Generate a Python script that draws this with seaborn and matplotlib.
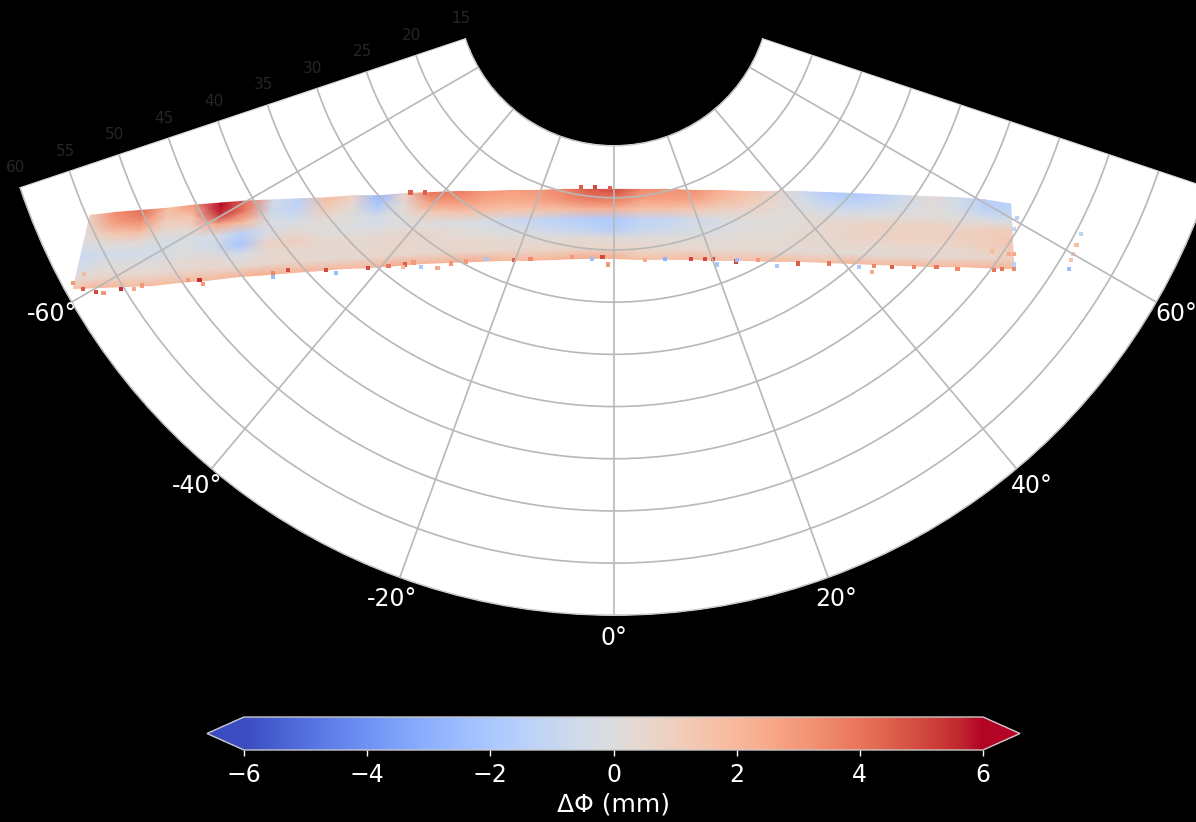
import numpy as np
import pandas as pd
import seaborn as sns
import matplotlib.pyplot as plt
import matplotlib.patheffects as pe
from matplotlib.colors import Normalize
from matplotlib.cm import ScalarMappable

# swath outline, detector plane (mm)
top_x = [-50.2, -47.7, -45.2, -42.7, -40.2, -37.6, -35.1, -32.6, -30.1, -27.5, -25.0, -22.5,
         -20.0, -17.5, -14.9, -12.4, -9.9, -7.4, -4.9, -2.3, 0.2, 2.7, 5.2, 7.8,
         10.3, 12.8, 15.3, 17.8, 20.4, 22.9, 25.4, 27.9, 30.4, 33.0, 35.5, 38.0]
top_y = [21.7, 21.4, 21.2, 21.0, 20.7, 20.5, 20.3, 20.2, 20.1, 20.0, 19.8, 19.8,
         19.6, 19.5, 19.4, 19.4, 19.3, 19.3, 19.2, 19.2, 19.2, 19.2, 19.2, 19.3,
         19.3, 19.4, 19.4, 19.4, 19.5, 19.6, 19.7, 19.8, 19.9, 20.0, 20.2, 20.6]
bot_x = [-51.8, -49.2, -46.6, -44.1, -41.5, -38.9, -36.4, -33.8, -31.2, -28.6, -26.1, -23.5,
         -20.9, -18.3, -15.8, -13.2, -10.6, -8.1, -5.5, -2.9, -0.3, 2.2, 4.8, 7.4,
         10.0, 12.5, 15.1, 17.7, 20.2, 22.8, 25.4, 28.0, 30.5, 33.1, 35.7, 38.3]
bot_y = [28.7, 28.6, 28.5, 28.4, 28.1, 27.9, 27.6, 27.4, 27.2, 27.0, 26.8, 26.7,
         26.5, 26.3, 26.2, 26.1, 26.0, 26.0, 25.9, 25.8, 25.8, 25.9, 25.9, 25.9,
         26.0, 26.0, 26.1, 26.1, 26.2, 26.3, 26.4, 26.5, 26.6, 26.6, 26.7, 26.8]

# delta phi per column, one row at a time from the top edge down
row0 = [1.0, 3.4, 4.2, 1.8, 3.0, 7.0, 4.0, -0.4, -1.4, 1.8, 0.8, -2.6, 0.8, 4.0, 3.8, 3.0, 2.8, 3.0,
        3.6, 4.6, 5.0, 3.4, 3.2, 3.2, 2.2, 1.5, 0.8, -0.6, -1.6, -1.8, -1.4, -0.6, 0.3, -0.6, -1.6, -1.5]
row1 = [0.5, 2.8, 3.4, 1.2, 1.6, 5.5, 3.6, -0.7, -1.1, 1.2, 0.4, -1.8, 0.3, 2.8, 3.0, 2.6, 2.4, 2.6,
        3.2, 3.8, 3.8, 2.8, 2.8, 2.6, 1.8, 1.2, 0.6, -0.3, -1.0, -1.2, -0.9, -0.4, 0.1, -0.4, -1.3, -1.2]
row2 = [0.1, 1.4, 1.8, 0.5, 0.6, 2.4, 1.8, -0.3, -0.4, 0.4, 0.1, -0.5, 0.1, 1.2, 1.6, 1.6, 1.5, 1.5,
        1.8, 2.2, 2.2, 1.6, 1.6, 1.2, 0.8, 0.6, 0.3, 0.1, -0.2, -0.3, -0.1, 0.1, 0.2, 0.0, -0.3, -0.2]
row3 = [-0.3, 0.1, 0.2, -0.3, -0.3, -0.3, -1.4, -0.2, 0.3, 0.0, -0.1, -0.2, 0.0, 0.1, -0.1, -0.3, -0.7, -1.1,
        -1.4, -1.6, -1.8, -1.2, -1.0, -0.6, -0.3, 0.0, 0.0, 0.2, 0.5, 0.6, 0.8, 0.8, 0.8, 0.7, 0.9, 1.1]
row4 = [-0.8, -0.5, -0.5, -0.4, 0.0, -0.6, -2.0, 0.7, 1.0, 0.4, 0.3, 0.3, 0.6, 0.5, 0.2, 0.0, -0.2, -0.4,
        -0.8, -1.2, -1.6, -1.0, -0.7, -0.3, -0.1, 0.1, 0.2, 0.3, 0.5, 0.7, 0.8, 0.9, 0.8, 0.9, 1.1, 1.3]
row5 = [-0.5, 0.1, 0.0, 0.1, 0.2, 0.3, -0.3, 0.4, 0.5, 0.4, 0.5, 0.5, 0.6, 0.5, 0.5, 0.5, 0.4, 0.3,
        0.3, 0.3, 0.2, 0.2, 0.2, 0.2, 0.2, 0.3, 0.3, 0.4, 0.5, 0.6, 0.5, 0.6, 0.6, 0.6, 0.9, 1.2]
row6 = [0.3, 0.6, 0.6, 0.5, 0.6, 0.6, 0.4, 0.5, 0.6, 0.4, 0.4, 0.5, 0.6, 0.5, 0.6, 0.6, 0.6, 0.7,
        0.7, 0.7, 0.7, 0.6, 0.5, 0.5, 0.5, 0.4, 0.3, 0.3, 0.3, 0.2, 0.2, 0.3, 0.3, 0.4, 0.6, 1.0]
row7 = [1.6, 2.0, 1.8, 1.9, 1.8, 2.0, 2.0, 2.4, 2.1, 2.1, 1.9, 2.0, 2.4, 2.1, 2.1, 2.4, 2.0, 2.0,
        2.1, 2.4, 2.4, 1.6, 1.6, 2.0, 1.6, 1.6, 2.0, 1.6, 1.6, 2.1, 1.8, 1.9, 1.9, 2.0, 2.1, 2.0]

# single outlying pixels along the swath edges
speck_x = [-47.2, -49.6, -50.9, -39.7, -39.4, -31.2, -32.7, -45.2, -48.9, -51.8, -46.0, -32.7, -40.8, -50.8,
           -27.6, -23.6, -26.6, -21.6, -20.0, -19.2, -15.6, -16.9, -20.2, -18.5, -9.6, -8.0, -12.3, -14.2,
           -1.1, -0.6, -4.0, 7.4, 8.7, 9.5, 4.9, 9.9, 11.7, 11.8, 17.6, 15.6, 13.8, 3.0, -2.1,
           20.6, 26.6, 24.9, 24.7, 23.5, 28.7, 30.9, 32.9, 36.4, 37.2, 38.3, 38.3, 38.3, 37.8, 36.2, 38.6, 38.3,
           44.7, 44.3, 44.0, 43.8, 43.6, -19.5, -18.1, -3.2, -1.8, -0.4]
speck_y = [28.7, 29.0, 28.7, 27.9, 28.3, 26.9, 27.2, 28.4, 29.1, 28.2, 28.7, 27.6, 27.9, 27.3,
           26.9, 26.7, 27.2, 26.5, 26.4, 26.2, 26.3, 26.7, 26.6, 26.6, 26.0, 25.9, 25.9, 26.1,
           25.7, 26.4, 25.7, 25.9, 25.9, 25.9, 25.9, 26.4, 26.1, 26.0, 26.3, 26.5, 26.0, 26.0, 25.9,
           26.3, 26.6, 26.5, 27.1, 26.6, 26.6, 26.6, 26.8, 26.9, 26.8, 26.4, 26.8, 25.4, 25.4, 25.1, 21.9, 23.0,
           23.5, 24.5, 25.4, 26.0, 26.8, 19.5, 19.5, 19.0, 19.0, 19.1]
speck_val = [5.5, 5, 4.5, 5.5, 3, 5, 3.5, 3, 3, 3, 2.5, -2.5, 3, 2,
             5, 5, -2.5, 4, 4.5, 3, 3, 2.5, 2, -2, 4.5, 3.5, -2, 3,
             5, 3, 3, 5, 5, 5, -3, -2, 5, -2.5, 4.5, -2, 3, 2.5, -2.5,
             4, 4.5, 3.5, 2.5, -2, 3.5, 4, 3.5, 4, 4, -1.5, 3.5, 2.5, 2.5, 2, -1.5, -1.2,
             -1.2, 1.8, 1.5, 1.5, -2.5, 4.5, 4.5, 4.5, 5, 4.5]

theta_ticks = [-60, -40, -20, 0, 20, 40, 60]
r_ticks = [15, 20, 25, 30, 35, 40, 45, 50, 55, 60]
cbar_ticks = [-6, -4, -2, 0, 2, 4, 6]

sns.set_theme(style="white", rc={"figure.facecolor": "black", "savefig.facecolor": "black"})
plt.rcParams['font.family'] = ['DejaVu Sans']
cmap = sns.color_palette("coolwarm", as_cmap=True)
norm = Normalize(-6, 6)

fig = plt.figure(figsize=(11.96, 8.22), dpi=100)
# the wedge is fitted into a square box, so the box runs past the figure
ax = fig.add_axes([20 / 1196, -99 / 822, 1188 / 1196, 1188 / 822], projection='polar')
ax.set_facecolor('white')
ax.set_theta_zero_location('S')
ax.set_thetamin(-71.5)
ax.set_thetamax(71.5)
ax.set_rorigin(0)
ax.set_rlim(15, 60)

# detector plane to polar, rows spread between the two edges
values = np.array([row0, row1, row2, row3, row4, row5, row6, row7])
n_rows = values.shape[0]
mesh_x = np.linspace(top_x, bot_x, n_rows)
mesh_y = np.linspace(top_y, bot_y, n_rows)
mesh_theta = np.arctan2(mesh_x, mesh_y)
mesh_r = np.hypot(mesh_x, mesh_y)
ax.pcolormesh(mesh_theta, mesh_r, values, cmap=cmap, norm=norm, shading='gouraud', zorder=1)

specks = pd.DataFrame({'x': speck_x, 'y': speck_y, 'dphi': speck_val})
specks['theta'] = np.arctan2(specks['x'], specks['y'])
specks['r'] = np.hypot(specks['x'], specks['y'])
sns.scatterplot(data=specks, x='theta', y='r', hue='dphi', palette=cmap, hue_norm=norm, marker='s',
                s=9, linewidth=0, legend=False, ax=ax, zorder=1.2)
ax.set_xlabel('')
ax.set_ylabel('')
ax.set_rlim(15, 60)

ax.set_axisbelow(False)
ax.set_thetagrids(theta_ticks, [f'{t}°' for t in theta_ticks], color='white', fontsize=17)
ax.set_rgrids(r_ticks, [str(r) for r in r_ticks], color='black', fontsize=9.5)
ax.grid(True, color='#b8b8b8', linewidth=1.2)
for lab in ax.get_yticklabels():
    lab.set_path_effects([pe.withStroke(linewidth=0.8, foreground='#666666')])
for spine in ax.spines.values():
    spine.set_color('#d8d8d8')
    spine.set_linewidth(0.8)

cax = fig.add_axes([207 / 1196, 72 / 822, 813 / 1196, 33 / 822])
cbar = fig.colorbar(ScalarMappable(norm=norm, cmap=cmap), cax=cax, orientation='horizontal', extend='both')
cbar.set_ticks(cbar_ticks)
cbar.ax.tick_params(colors='white', labelsize=17, length=4, width=1, bottom=True, pad=5)
cbar.set_label('ΔΦ (mm)', color='white', fontsize=18, labelpad=4)
cbar.outline.set_edgecolor('#c8c8c8')
cbar.outline.set_linewidth(1)

fig.savefig('out.png', dpi=100)
